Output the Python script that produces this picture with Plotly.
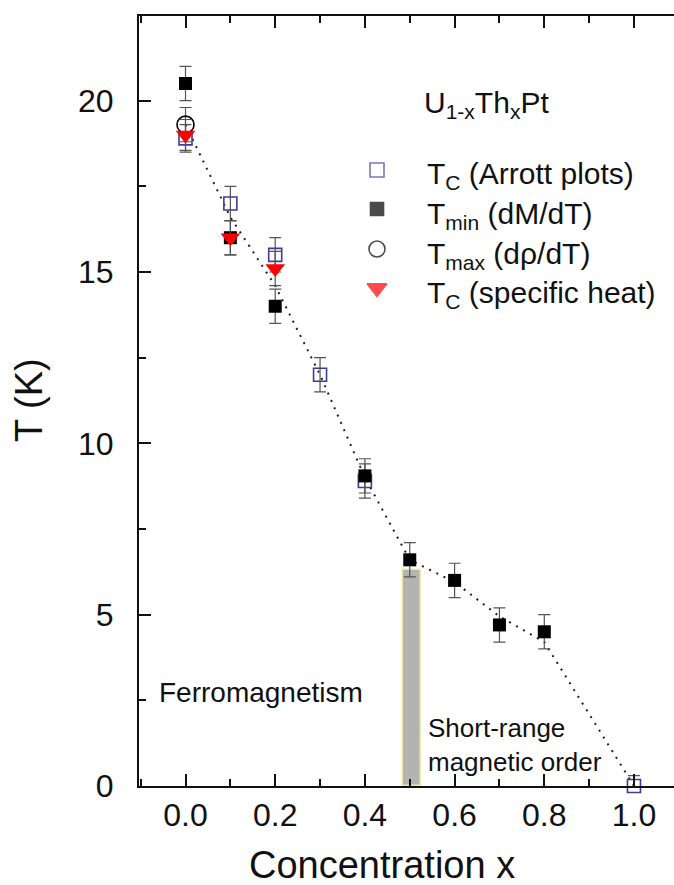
import plotly.graph_objects as go

FONT = "Liberation Sans, Arial, Helvetica, sans-serif"

# T_C from Arrott plots
arrott_x = [0.0, 0.1, 0.2, 0.3, 0.4, 1.0]
arrott_t = [18.9, 17.0, 15.5, 12.0, 8.9, 0.0]
arrott_err = [0.4, 0.5, 0.5, 0.5, 0.5, 0.3]

# T_min from dM/dT
tmin_x = [0.0, 0.1, 0.2, 0.4, 0.5, 0.6, 0.7, 0.8]
tmin_t = [20.5, 16.0, 14.0, 9.05, 6.6, 6.0, 4.7, 4.5]
tmin_err = [0.5, 0.5, 0.5, 0.5, 0.5, 0.5, 0.5, 0.5]

# T_max from d(rho)/dT
tmax_x = [0.0]
tmax_t = [19.3]
tmax_err = [0.5]

# T_C from specific heat
cp_x = [0.0, 0.1, 0.2]
cp_t = [19.0, 16.0, 15.1]
cp_err = [0.45, 0.5, 0.5]

# dotted guide to the eye
guide_x = [0.0, 0.1, 0.2, 0.3, 0.4, 0.5, 0.6, 0.7, 0.8, 1.0]
guide_t = [19.3, 16.6, 14.6, 12.0, 9.0, 6.6, 5.95, 4.95, 4.2, 0.0]

# short-range order region around x = 0.5
sro_x = [0.505]
sro_t = [6.3]
sro_width = 0.038

x_ticks = [0.0, 0.2, 0.4, 0.6, 0.8, 1.0]
x_ticklabels = ["0.0", "0.2", "0.4", "0.6", "0.8", "1.0"]
y_ticks = [0, 5, 10, 15, 20]
y_ticklabels = ["0", "5", "10", "15", "20"]

legend_names = [
    "T<sub>C</sub> (Arrott plots)",
    "T<sub>min</sub> (dM/dT)",
    "T<sub>max</sub> (d\u03c1/dT)",
    "T<sub>C</sub> (specific heat)",
]

BLUE = "#3d3d96"
RED = "#ff0000"
ERR = "#555555"
INK = "#111111"

L, R, T, B = 139, 0, 16, 99
W, H = 674, 885
PW, PH = W - L - R, H - T - B


def px(x):
    """page pixel -> paper x"""
    return (x - L) / PW


def py(y):
    """page pixel -> paper y"""
    return (H - B - y) / PH


fig = go.Figure()

fig.add_trace(go.Bar(
    x=sro_x, y=sro_t, width=sro_width,
    marker=dict(color="#b3b3b3", line=dict(color="#f0eaa0", width=1.5)),
    showlegend=False, hoverinfo="skip",
))

fig.add_trace(go.Scatter(
    x=guide_x, y=guide_t, mode="lines",
    line=dict(color="#222222", width=2, dash="2px,6px"),
    showlegend=False, hoverinfo="skip",
))


def err(vals):
    return dict(type="data", array=vals, visible=True, color=ERR,
                thickness=1.2, width=6)


fig.add_trace(go.Scatter(
    x=arrott_x, y=arrott_t, mode="markers", error_y=err(arrott_err),
    marker=dict(symbol="square-open", size=13, color=BLUE, line=dict(width=1.6)),
    showlegend=False, cliponaxis=False,
))
fig.add_trace(go.Scatter(
    x=tmax_x, y=tmax_t, mode="markers", error_y=err(tmax_err),
    marker=dict(symbol="circle-open", size=17, color="#000000", line=dict(width=1.6)),
    showlegend=False,
))
fig.add_trace(go.Scatter(
    x=tmin_x, y=tmin_t, mode="markers", error_y=err(tmin_err),
    marker=dict(symbol="square", size=13, color="#000000"),
    showlegend=False,
))
fig.add_trace(go.Scatter(
    x=cp_x, y=cp_t, mode="markers", error_y=err(cp_err),
    marker=dict(symbol="triangle-down", size=17, color=RED),
    showlegend=False,
))

# hand-placed key on a pixel-coordinate overlay
key_x = 377
key_text_x = 425
key_rows = [170, 209, 249, 288]
key_symbols = ["square-open", "square", "circle-open", "triangle-down"]
key_colors = [BLUE, "#000000", "#000000", RED]
key_sizes = [14, 13, 16, 17]

fig.add_trace(go.Scatter(
    x=[key_x] * 4, y=key_rows, mode="markers", xaxis="x2", yaxis="y2",
    marker=dict(symbol=key_symbols, size=key_sizes, color=key_colors,
                line=dict(width=1.6, color=key_colors)),
    showlegend=False, hoverinfo="skip",
))


def note(x, y, text, size, **kw):
    d = dict(x=px(x), y=py(y), xref="paper", yref="paper", text=text,
             showarrow=False, xanchor="left", yanchor="middle",
             font=dict(family=FONT, size=size, color=INK))
    d.update(kw)
    return d


annotations = [note(key_text_x, row + 6, name, 30)
               for name, row in zip(legend_names, key_rows)]
annotations += [
    note(key_text_x - 3, 104, "U<sub>1-x</sub>Th<sub>x</sub>Pt", 30),
    note(157, 692, "Ferromagnetism", 28),
    note(426, 745, "Short-range<br>magnetic order", 26, align="left"),
    note(382, 865, "Concentration x", 38, xanchor="center"),
    note(29, 400, "T (K)", 38, xanchor="center", textangle=-90),
]

fig.update_layout(
    width=W, height=H,
    margin=dict(l=L, r=R, t=T, b=B, pad=0),
    paper_bgcolor="white", plot_bgcolor="white",
    showlegend=False,
    bargap=0,
    annotations=annotations,
    xaxis=dict(
        range=[-0.1037, 1.0892], tickvals=x_ticks, ticktext=x_ticklabels,
        ticks="inside", ticklen=12, tickwidth=2, tickcolor=INK,
        minor=dict(dtick=0.1, tick0=0, ticks="inside", ticklen=7, tickwidth=2,
                   tickcolor=INK, showgrid=False),
        showline=True, linewidth=2, linecolor=INK, mirror="ticks",
        showgrid=False, zeroline=False,
        tickfont=dict(family=FONT, size=32, color=INK),
        ticklabelstandoff=0,
    ),
    yaxis=dict(
        range=[0, 22.47], tickvals=y_ticks, ticktext=y_ticklabels,
        ticks="inside", ticklen=12, tickwidth=2, tickcolor=INK,
        minor=dict(dtick=2.5, tick0=0, ticks="inside", ticklen=7, tickwidth=2,
                   tickcolor=INK, showgrid=False),
        showline=True, linewidth=2, linecolor=INK, mirror=False,
        showgrid=False, zeroline=False,
        tickfont=dict(family=FONT, size=32, color=INK),
        ticklabelstandoff=17,
    ),
    # overlay axes map one unit to one pixel of the page
    xaxis2=dict(range=[L, W], overlaying="x", anchor="y2", visible=False),
    yaxis2=dict(range=[H - B, T], overlaying="y", anchor="x2", visible=False),
)

fig.write_html("out.html")
